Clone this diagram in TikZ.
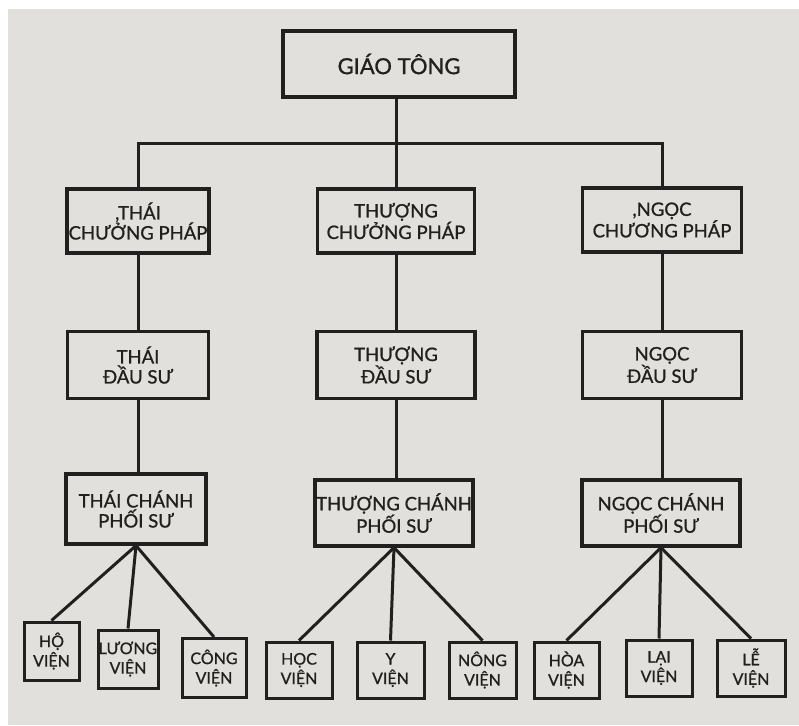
\documentclass[tikz,border=0pt]{standalone}
\usepackage{fontspec}
\setmainfont{Lato}[FakeBold=1.0]
\definecolor{paper}{RGB}{226,224,220}
\definecolor{ink}{RGB}{34,32,31}
\begin{document}
\begin{tikzpicture}[x=1pt,y=-1pt,
 box/.style={draw=ink, line width=3.2pt, fill=paper, align=center, text=ink, inner sep=0pt,
   font=\fontsize{18.5}{20}\selectfont},
 lvtwo/.style={box, minimum height=64pt},
 lvthree/.style={box, minimum height=67pt},
 lvfour/.style={box, minimum height=66pt},
 leaf/.style={box, line width=3pt, minimum height=56pt, font=\fontsize{16}{19.5}\selectfont},
 conn/.style={draw=ink, line width=3pt}]
\fill[white] (0,0) rectangle (799,725);
\fill[paper] (8,9) rectangle (799,725);
\useasboundingbox (0,0) rectangle (799,725);

% top
\node[box, minimum width=232pt, minimum height=66pt, font=\fontsize{22}{24}\selectfont] (gt) at (399,64) {GIÁO TÔNG};

% level 2
\node[lvtwo, minimum width=142pt] (a2) at (138,221) {,THÁI\\CHƯỞNG PHÁP};
\node[lvtwo, minimum width=157pt] (b2) at (396,221) {THƯỢNG\\CHƯỞNG PHÁP};
\node[lvtwo, minimum width=159pt] (c2) at (662,220) {,NGỌC\\CHƯƠNG PHÁP};

% level 3
\node[lvthree, minimum width=141pt] (a3) at (138,365) {THÁI\\ĐẦU SƯ};
\node[lvthree, minimum width=158pt] (b3) at (396,365) {THƯỢNG\\ĐẦU SƯ};
\node[lvthree, minimum width=159pt] (c3) at (662,365) {NGỌC\\ĐẦU SƯ};

% level 4
\node[lvfour, minimum width=140pt, minimum height=70pt] (a4) at (136,509) {THÁI CHÁNH\\PHỐI SƯ};
\node[lvfour, minimum width=158pt] (b4) at (394,513) {THƯỢNG CHÁNH\\PHỐI SƯ};
\node[lvfour, minimum width=158pt] (c4) at (661,513) {NGỌC CHÁNH\\PHỐI SƯ};

% leaves
\node[leaf, minimum width=55pt, minimum height=58pt] (l1) at (51.5,651) {HỘ\\VIỆN};
\node[leaf, minimum width=60pt, minimum height=58pt] (l2) at (128,659) {LƯƠNG\\VIỆN};
\node[leaf, minimum width=64pt, minimum height=59pt] (l3) at (214,668) {CÔNG\\VIỆN};
\node[leaf, minimum width=66pt] (l4) at (299,670) {HỌC\\VIỆN};
\node[leaf, minimum width=67pt] (l5) at (390.5,670) {Y\\VIỆN};
\node[leaf, minimum width=67pt] (l6) at (482.5,670) {NÔNG\\VIỆN};
\node[leaf, minimum width=65pt] (l7) at (566.5,670) {HÒA\\VIỆN};
\node[leaf, minimum width=66pt] (l8) at (659,668) {LẠI\\VIỆN};
\node[leaf, minimum width=68pt] (l9) at (751,668) {LỄ\\VIỆN};

% connectors
\coordinate (bar) at (396,143);
\draw[conn] (gt.south -| bar) -- (b2.north);
\draw[conn] (a2.north) |- (bar) -| (c2.north);

\draw[conn] (a2.south) -- (a3.north);
\draw[conn] (b2.south) -- (b3.north);
\draw[conn] (c2.south) -- (c3.north);
\draw[conn] (a3.south) -- (a3.south |- a4.north);
\draw[conn] (b3.south) -- (b3.south |- b4.north);
\draw[conn] (c3.south) -- (c3.south |- c4.north);

\draw[conn] (a4.south) -- (l1.north);
\draw[conn] (a4.south) -- (l2.north);
\draw[conn] (a4.south) -- (l3.north);
\draw[conn] (b4.south) -- (l4.north);
\draw[conn] (b4.south) -- (l5.north);
\draw[conn] (b4.south) -- (l6.north);
\draw[conn] (c4.south) -- (l7.north);
\draw[conn] (c4.south) -- (l8.north);
\draw[conn] (c4.south) -- (l9.north);
\end{tikzpicture}
\end{document}
